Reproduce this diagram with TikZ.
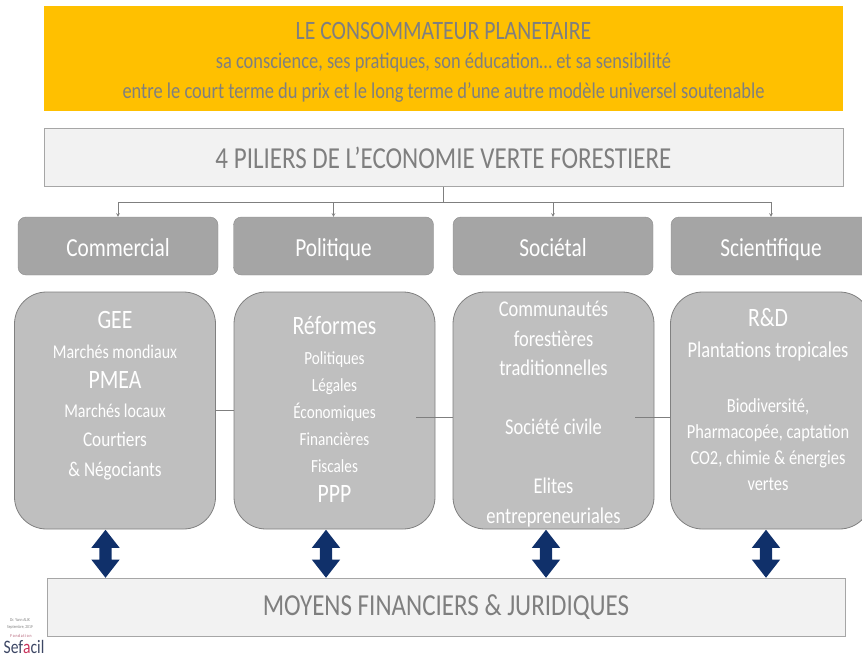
\documentclass[tikz,border=0pt]{standalone}
\usepackage{fontspec}
\setmainfont{Carlito}[FakeStretch=0.82]
\usetikzlibrary{calc,shapes.arrows}

\definecolor{consoyellow}{HTML}{FFC000}
\definecolor{textgrey}{HTML}{7F7F7F}
\definecolor{lightfill}{HTML}{F2F2F2}
\definecolor{framegrey}{HTML}{A6A6A6}
\definecolor{pillarfill}{HTML}{A5A5A5}
\definecolor{boxfill}{HTML}{BFBFBF}
\definecolor{boxrim}{HTML}{808080}
\definecolor{navy}{HTML}{10306A}
\definecolor{logored}{HTML}{C8325A}
\definecolor{logoblue}{HTML}{3C4664}
\newcommand{\fs}[2]{\fontsize{#1}{#2}\selectfont}

\tikzset{>=stealth,
  banner/.style={fill=consoyellow, minimum width=799pt, minimum height=105pt,
    inner sep=0pt, text=textgrey, align=center, font=\fs{22.5}{29.5}},
  titlebox/.style={fill=lightfill, draw=framegrey, line width=0.8pt,
    minimum width=799pt, minimum height=58pt, inner sep=0pt, text=textgrey,
    font=\fs{30.5}{36}},
  pillar/.style={fill=pillarfill, draw=pillarfill!85!black, rounded corners=8pt,
    minimum width=200pt, minimum height=58pt, text height=22pt, text depth=1pt,
    text=white, font=\fs{26}{30}},
  pillarbox/.style={fill=boxfill, draw=boxrim, line width=0.8pt,
    rounded corners=32pt, minimum width=201pt, minimum height=237pt},
  boxtext/.style={text=white, align=center, anchor=north, inner sep=0pt},
  link/.style={draw=textgrey, line width=0.6pt},
  updown/.style={double arrow, fill=navy, rotate=90, minimum height=48pt,
    minimum width=28pt, inner xsep=0pt, inner ysep=6pt,
    double arrow head extend=8pt, double arrow tip angle=76},
  credit/.style={text=textgrey, inner sep=0pt, font=\fs{4.5}{5}}
}

\begin{document}
\begin{tikzpicture}[x=1pt,y=-1pt]
  \useasboundingbox (0,0) rectangle (862,658);

  \node[banner] (conso) at (443.5,58.5)
    {\rule{0pt}{24pt}{\fs{26.5}{29.5}LE CONSOMMATEUR PLANETAIRE}\\
     sa conscience, ses pratiques, son éducation… et sa sensibilité\\
     entre le court terme du prix et le long terme d’une autre modèle universel soutenable};

  \node[titlebox] (piliers) at (443.5,157.5) {4 PILIERS DE L’ECONOMIE VERTE FORESTIERE};

  % the four pillars
  \node[pillar] (h1) at (118,246) {Commercial};
  \node[pillar] (h2) at (333.5,246) {Politique};
  \node[pillar] (h3) at (553,246) {Sociétal};
  \node[pillar] (h4) at (771,246) {Scientifique};

  \coordinate (fork) at ($(piliers.south)+(0,15)$);
  \draw[link] (piliers.south) -- (fork);
  \foreach \h in {h1,h2,h3,h4}
    \draw[link,->] (fork) -| (\h.north);

  \node[pillarbox] (b1) at (115,410.5) {};
  \node[pillarbox] (b2) at (334.5,410.5) {};
  \node[pillarbox] (b3) at (553.5,410.5) {};
  \node[pillarbox] (b4) at (771,410.5) {};

  \draw[link] (b1.east) -- (b2.west);
  \draw[link] ($(b2.east)+(-19,7)$) -- ($(b3.west)+(0,7)$);
  \draw[link] ($(b3.east)+(-19,7)$) -- ($(b4.west)+(0,7)$);

  \node[boxtext, font=\fs{19.5}{29.5}] (t1) at ($(b1.north)+(0,20)$)
    {{\fs{26.5}{29.5}GEE}\\ Marchés mondiaux\\ {\fs{26.5}{29.5}PMEA}\\
     Marchés locaux\\ {\fs{21}{29.5}Courtiers}\\ {\fs{21}{29.5}\& Négociants}};
  \node[boxtext, font=\fs{18.5}{27}] (t2) at ($(b2.north)+(0,25)$)
    {{\fs{26.5}{27}Réformes}\\[3pt] Politiques\\ Légales\\ Économiques\\
     Financières\\ Fiscales\\[3pt] {\fs{26.5}{27}PPP}};
  \node[boxtext, font=\fs{22.5}{29.5}] (t3) at ($(b3.north)+(0,9.5)$)
    {Communautés\\ forestières\\ traditionnelles\\[29.5pt] Société civile\\[29.5pt]
     Elites\\ entrepreneuriales};
  \node[boxtext, font=\fs{20}{26}] (t4) at ($(b4.north)+(-3,17)$)
    {{\fs{26.5}{26}R\&D}\\[4.5pt] {\fs{22.5}{26}Plantations tropicales}\\[29pt]
     Biodiversité,\\ Pharmacopée, captation\\ CO2, chimie \& énergies\\ vertes};

  \node[titlebox, minimum width=798pt] (money) at (446,607.5) {MOYENS FINANCIERS \& JURIDIQUES};

  \foreach \b/\dx in {b1/-9.5,b2/-8.5,b3/-7.5,b4/-5}
    \node[updown] (arr-\b) at ($(\b.south)!0.5!(\b.south |- money.north)+(\dx,0)$) {};

  % signature and logo
  \node[credit] (author) at (20,620) {Dr. Yann ALIX};
  \node[credit] (date) at (20,627.5) {Septembre, 2019};
  \node[credit, text=logored!60!textgrey] (fondation) at (21,636) {F\,o\,n\,d\,a\,t\,i\,o\,n};
  \node[inner sep=0pt, text=logoblue, font=\fs{19}{21}] (sefacil) at (24,646.5) {Sef{\color{logored}a}cil};
\end{tikzpicture}
\end{document}
